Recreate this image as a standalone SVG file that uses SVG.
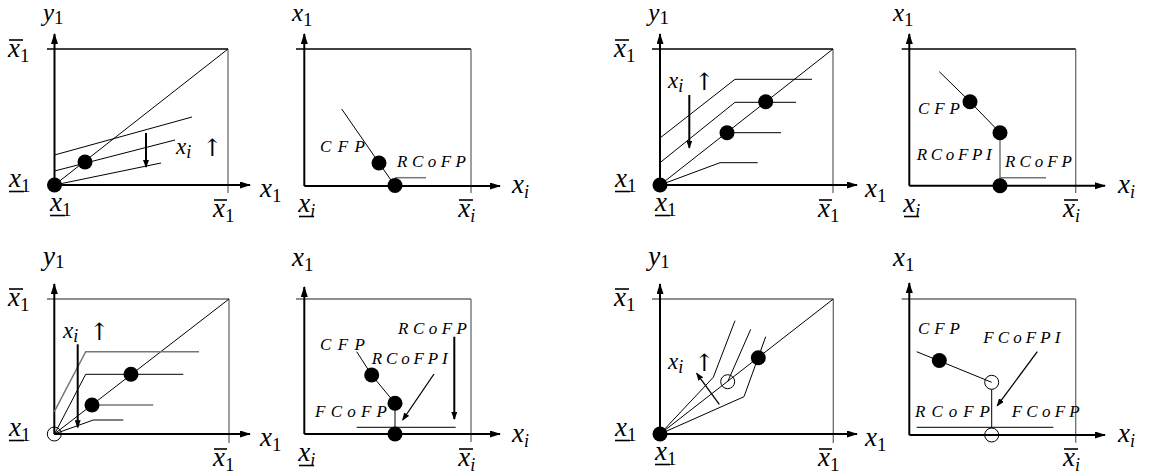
<svg xmlns="http://www.w3.org/2000/svg" width="1153" height="474" viewBox="0 0 1153 474">
<style>
.bg{fill:#fff}
.ax{stroke:#000;stroke-width:2;fill:none;marker-end:url(#ah)}
.bt{stroke:#000;stroke-width:1.3;fill:none}
.bg2{stroke:#6a6a6a;stroke-width:1.3;fill:none}
.ln{stroke:#000;stroke-width:1;fill:none}
.lg{stroke:#777;stroke-width:1.5;fill:none}
.ar{stroke:#000;stroke-width:2;fill:none;marker-end:url(#sh)}
.ar1{stroke:#000;stroke-width:1.3;fill:none;marker-end:url(#sh)}
.dot{fill:#000}
.oc{fill:none;stroke:#000;stroke-width:1}
.bar{stroke:#000;stroke-width:1.6}
.m{font-family:"Liberation Serif","Times New Roman",serif;font-style:italic;font-size:27px;fill:#000}
.mt{font-family:"Liberation Serif","Times New Roman",serif;font-style:italic;font-size:25px;fill:#000}
.m2{font-family:"Liberation Serif","Times New Roman",serif;font-style:italic;font-size:23px;fill:#000}
.s{font-style:normal;font-size:19px}
.si{font-style:italic;font-size:18px}
.up{font-family:"DejaVu Serif",serif;font-style:normal;font-size:24px;font-weight:normal}
.sl{font-family:"Liberation Serif","Times New Roman",serif;font-style:italic;font-size:17px;fill:#000}
</style>
<defs>
<marker id="ah" markerUnits="userSpaceOnUse" markerWidth="12" markerHeight="8" refX="10" refY="3.5" orient="auto"><path d="M0,0 L11,3.5 L0,7 z" fill="#000"/></marker>
<marker id="sh" markerUnits="userSpaceOnUse" markerWidth="9" markerHeight="7" refX="7" refY="3" orient="auto"><path d="M0,0 L8,3 L0,6 z" fill="#000"/></marker>
</defs>
<rect class="bg" x="0" y="0" width="1153" height="474"/>

<g id="panel1">
<line class="bt" x1="47" y1="49" x2="228" y2="49"/>
<line class="bg2" x1="228" y1="49" x2="228" y2="193"/>
<line class="ax" x1="54.5" y1="185" x2="54.5" y2="34"/>
<line class="ax" x1="54.5" y1="185" x2="250" y2="185"/>
<g id="p1-curves">
<line class="ln" x1="54.5" y1="185" x2="228" y2="49"/>
<line class="ln" x1="54.5" y1="155" x2="192" y2="117"/>
<line class="ln" x1="54.5" y1="171" x2="175" y2="140"/>
<line class="ln" x1="54.5" y1="185" x2="161" y2="163"/>
<line class="ar" x1="146" y1="133" x2="146" y2="167"/>
</g>
<circle class="dot" cx="54.5" cy="185" r="7.5"/>
<circle class="dot" cx="85" cy="162" r="7.5"/>
<text class="m2" x="176" y="154">x<tspan class="si" dy="4">i</tspan><tspan class="up" dx="11" dy="-2">↑</tspan></text>
<text class="mt" x="43" y="21">y<tspan class="s" dy="3">1</tspan></text>
<text class="m" x="8" y="57">x<tspan class="s" dy="5">1</tspan></text><line class="bar" x1="9" y1="40" x2="23" y2="40"/>
<text class="m" x="9" y="187">x<tspan class="s" dy="5">1</tspan></text><line class="bar" x1="9" y1="191.5" x2="24" y2="191.5"/>
<text class="m" x="50" y="211">x<tspan class="s" dy="5">1</tspan></text><line class="bar" x1="50" y1="215.5" x2="65" y2="215.5"/>
<text class="m" x="213" y="216.5">x<tspan class="s" dy="5">1</tspan></text><line class="bar" x1="214" y1="200" x2="227" y2="200"/>
<text class="m" x="260" y="197">x<tspan class="s" dy="5">1</tspan></text>
</g>

<g id="panel2">
<line class="bt" x1="296" y1="49" x2="471" y2="49"/>
<line class="bg2" x1="471" y1="49" x2="471" y2="193"/>
<line class="ax" x1="304.3" y1="186" x2="304.3" y2="34"/>
<line class="ax" x1="304.3" y1="186" x2="500" y2="186"/>
<g id="p2-curves">
<line class="ln" x1="341.7" y1="109" x2="395" y2="186"/>
<line class="lg" x1="395" y1="177.7" x2="426" y2="177.7"/>
</g>
<circle class="dot" cx="379" cy="163" r="7.5"/>
<circle class="dot" cx="395" cy="185.5" r="7.5"/>
<text class="sl" x="320" y="152" textLength="45" lengthAdjust="spacing">CFP</text>
<text class="sl" x="397" y="166.7" textLength="69" lengthAdjust="spacing">RCoFP</text>
<text class="mt" x="292" y="21">x<tspan class="s" dy="5">1</tspan></text>
<text class="m" x="512" y="193">x<tspan class="si" dy="5">i</tspan></text>
<text class="m" x="298.3" y="212">x<tspan class="si" dy="5">i</tspan></text><line class="bar" x1="299" y1="216.5" x2="314" y2="216.5"/>
<text class="m" x="458.3" y="216.5">x<tspan class="si" dy="5">i</tspan></text><line class="bar" x1="459" y1="200" x2="473" y2="200"/>
</g>

<g id="panel3">
<line class="bt" x1="652" y1="49" x2="833" y2="49"/>
<line class="bg2" x1="833" y1="49" x2="833" y2="193"/>
<line class="ax" x1="660" y1="185" x2="660" y2="34"/>
<line class="ax" x1="660" y1="185" x2="857" y2="185"/>
<g id="p3-curves">
<line class="ln" x1="660" y1="185" x2="833" y2="49"/>
<polyline class="ln" points="660,138 735,79.3 812,79.3"/>
<polyline class="ln" points="660,162.7 735,102.3 796,102.3"/>
<line class="ln" x1="727.7" y1="132.7" x2="781" y2="132.7"/>
<polyline class="ln" points="660,185 720,162.7 757.7,162.7"/>
<line class="ar" x1="689.3" y1="95" x2="689.3" y2="147.7"/>
</g>
<circle class="dot" cx="660" cy="185" r="7.5"/>
<circle class="dot" cx="727" cy="132.7" r="7.5"/>
<circle class="dot" cx="765.7" cy="101.7" r="7.5"/>
<text class="m2" x="668" y="88">x<tspan class="si" dy="4">i</tspan><tspan class="up" dx="11" dy="-2">↑</tspan></text>
<text class="mt" x="648.3" y="21">y<tspan class="s" dy="3">1</tspan></text>
<text class="m" x="614" y="57">x<tspan class="s" dy="5">1</tspan></text><line class="bar" x1="615" y1="40" x2="629" y2="40"/>
<text class="m" x="615" y="187">x<tspan class="s" dy="5">1</tspan></text><line class="bar" x1="615" y1="191.5" x2="630" y2="191.5"/>
<text class="m" x="655" y="211">x<tspan class="s" dy="5">1</tspan></text><line class="bar" x1="655" y1="215.5" x2="670" y2="215.5"/>
<text class="m" x="818" y="216.5">x<tspan class="s" dy="5">1</tspan></text><line class="bar" x1="819" y1="200" x2="832" y2="200"/>
<text class="m" x="865" y="197">x<tspan class="s" dy="5">1</tspan></text>
</g>

<g id="panel4">
<line class="bt" x1="901.7" y1="49" x2="1075.7" y2="49"/>
<line class="bg2" x1="1075.7" y1="49" x2="1075.7" y2="193"/>
<line class="ax" x1="909.3" y1="185.7" x2="909.3" y2="34"/>
<line class="ax" x1="909.3" y1="185.7" x2="1105" y2="185.7"/>
<g id="p4-curves">
<polyline class="ln" points="939.3,71.7 970,101.7 1000,132.7"/>
<line class="lg" x1="1000" y1="132.7" x2="1000" y2="185.7"/>
<line class="lg" x1="1000" y1="177.7" x2="1046" y2="177.7"/>
</g>
<circle class="dot" cx="970" cy="101.7" r="7.5"/>
<circle class="dot" cx="1000" cy="132.7" r="7.5"/>
<circle class="dot" cx="1000" cy="185.7" r="7.5"/>
<text class="sl" x="918" y="114" textLength="42" lengthAdjust="spacing">CFP</text>
<text class="sl" x="916.7" y="160" textLength="75" lengthAdjust="spacing">RCoFPI</text>
<text class="sl" x="1005" y="167" textLength="67" lengthAdjust="spacing">RCoFP</text>
<text class="mt" x="893" y="21">x<tspan class="s" dy="5">1</tspan></text>
<text class="m" x="1118" y="193">x<tspan class="si" dy="5">i</tspan></text>
<text class="m" x="903.3" y="212">x<tspan class="si" dy="5">i</tspan></text><line class="bar" x1="904" y1="216.5" x2="919" y2="216.5"/>
<text class="m" x="1063" y="216.5">x<tspan class="si" dy="5">i</tspan></text><line class="bar" x1="1064" y1="200" x2="1078" y2="200"/>
</g>

<g id="panel5">
<line class="bg2" x1="47" y1="299" x2="229" y2="299"/>
<line class="bg2" x1="229" y1="299" x2="229" y2="443"/>
<line class="ax" x1="54.3" y1="434" x2="54.3" y2="284"/>
<line class="ax" x1="54.3" y1="434" x2="250" y2="434"/>
<g id="p5-curves">
<line class="ln" x1="54.3" y1="434" x2="229" y2="299"/>
<polyline class="lg" points="54.3,411.7 85.7,351.7 199,351.7"/>
<polyline class="ln" points="55,433 85.7,374.3 183.3,374.3"/>
<line class="lg" x1="92" y1="405" x2="153.3" y2="405"/>
<polyline class="ln" points="54.3,434 93.3,420 123.3,420"/>
<line class="ar" x1="77.7" y1="344.3" x2="77.7" y2="427.3"/>
</g>
<circle class="oc" cx="54.3" cy="434" r="7"/>
<circle class="dot" cx="131" cy="374.3" r="7.5"/>
<circle class="dot" cx="92" cy="405" r="7.5"/>
<text class="m2" x="63" y="338">x<tspan class="si" dy="4">i</tspan><tspan class="up" dx="11" dy="-2">↑</tspan></text>
<text class="m" x="43" y="265">y<tspan class="s" dy="3">1</tspan></text>
<text class="m" x="8" y="306">x<tspan class="s" dy="5">1</tspan></text><line class="bar" x1="9" y1="289" x2="23" y2="289"/>
<text class="m" x="9" y="436">x<tspan class="s" dy="5">1</tspan></text><line class="bar" x1="9" y1="440.5" x2="24" y2="440.5"/>
<text class="m" x="213" y="465.5">x<tspan class="s" dy="5">1</tspan></text><line class="bar" x1="214" y1="449" x2="227" y2="449"/>
<text class="m" x="260" y="446">x<tspan class="s" dy="5">1</tspan></text>
</g>

<g id="panel6">
<line class="bg2" x1="296" y1="299" x2="471" y2="299"/>
<line class="bg2" x1="471" y1="299" x2="471" y2="442"/>
<line class="ax" x1="304.3" y1="434" x2="304.3" y2="287"/>
<line class="ax" x1="304.3" y1="434" x2="500" y2="434"/>
<g id="p6-curves">
<polyline class="ln" points="356.7,351.7 371.7,375 395,403.3 395,434"/>
<line class="ln" x1="356.7" y1="427.3" x2="455.7" y2="427.3"/>
<line class="ar" x1="454.3" y1="336.7" x2="454.3" y2="419"/>
<line class="ar1" x1="434" y1="374" x2="402.7" y2="420"/>
</g>
<circle class="dot" cx="371.7" cy="375" r="7.5"/>
<circle class="dot" cx="395" cy="403.3" r="7.5"/>
<circle class="dot" cx="395" cy="434" r="7.5"/>
<text class="sl" x="320" y="350" textLength="45" lengthAdjust="spacing">CFP</text>
<text class="sl" x="371.7" y="364" textLength="76" lengthAdjust="spacing">RCoFPI</text>
<text class="sl" x="398" y="334" textLength="69" lengthAdjust="spacing">RCoFP</text>
<text class="sl" x="315" y="417" textLength="72" lengthAdjust="spacing">FCoFP</text>
<text class="m" x="292" y="265.5">x<tspan class="s" dy="5">1</tspan></text>
<text class="m" x="512" y="442">x<tspan class="si" dy="5">i</tspan></text>
<text class="m" x="298.3" y="461">x<tspan class="si" dy="5">i</tspan></text><line class="bar" x1="299" y1="465.5" x2="314" y2="465.5"/>
<text class="m" x="458.3" y="465.5">x<tspan class="si" dy="5">i</tspan></text><line class="bar" x1="459" y1="449" x2="473" y2="449"/>
</g>

<g id="panel7">
<line class="bg2" x1="652" y1="299" x2="833.3" y2="299"/>
<line class="bg2" x1="833.3" y1="299" x2="833.3" y2="443"/>
<line class="ax" x1="660" y1="434" x2="660" y2="284"/>
<line class="ax" x1="660" y1="434" x2="857" y2="434"/>
<g id="p7-curves">
<line class="ln" x1="660" y1="434" x2="833.3" y2="299"/>
<polyline class="ln" points="660,434 713.3,377.3 735,320.7"/>
<polyline class="ln" points="727.7,381.7 750.7,329.3"/>
<polyline class="ln" points="660,434 744,396.7 765.7,336.7"/>
<line class="ar1" x1="719.3" y1="404.3" x2="696.7" y2="373.3"/>
</g>
<circle class="dot" cx="660" cy="434" r="7.5"/>
<circle class="oc" cx="727.7" cy="381.7" r="7"/>
<circle class="dot" cx="758.3" cy="357.8" r="7.5"/>
<text class="m2" x="668" y="369">x<tspan class="si" dy="4">i</tspan><tspan class="up" dx="11" dy="-2">↑</tspan></text>
<text class="m" x="648.3" y="265">y<tspan class="s" dy="3">1</tspan></text>
<text class="m" x="614" y="306">x<tspan class="s" dy="5">1</tspan></text><line class="bar" x1="615" y1="289" x2="629" y2="289"/>
<text class="m" x="615" y="436">x<tspan class="s" dy="5">1</tspan></text><line class="bar" x1="615" y1="440.5" x2="630" y2="440.5"/>
<text class="m" x="655" y="460">x<tspan class="s" dy="5">1</tspan></text><line class="bar" x1="655" y1="464.5" x2="670" y2="464.5"/>
<text class="m" x="818" y="465.5">x<tspan class="s" dy="5">1</tspan></text><line class="bar" x1="819" y1="449" x2="832" y2="449"/>
<text class="m" x="865" y="446">x<tspan class="s" dy="5">1</tspan></text>
</g>

<g id="panel8">
<line class="bg2" x1="901.7" y1="299" x2="1075.7" y2="299"/>
<line class="bg2" x1="1075.7" y1="299" x2="1075.7" y2="442.7"/>
<line class="ax" x1="909.3" y1="435" x2="909.3" y2="283"/>
<line class="ax" x1="909.3" y1="435" x2="1105" y2="435"/>
<g id="p8-curves">
<line class="ln" x1="916.7" y1="351.7" x2="991.7" y2="382.3"/>
<line class="ln" x1="991.7" y1="389.3" x2="991.7" y2="428"/>
<line class="ln" x1="916.7" y1="427.3" x2="1053.3" y2="427.3"/>
<line class="ar1" x1="1037.3" y1="351.7" x2="997.3" y2="405.7"/>
</g>
<circle class="dot" cx="939.3" cy="360.5" r="7.5"/>
<circle class="oc" cx="991.7" cy="382.3" r="7"/>
<circle class="oc" cx="991.7" cy="435" r="7"/>
<text class="sl" x="918" y="334" textLength="42" lengthAdjust="spacing">CFP</text>
<text class="sl" x="983.3" y="343" textLength="77" lengthAdjust="spacing">FCoFPI</text>
<text class="sl" x="915" y="417" textLength="75" lengthAdjust="spacing">RCoFP</text>
<text class="sl" x="1011.7" y="417" textLength="68" lengthAdjust="spacing">FCoFP</text>
<text class="m" x="893" y="265.5">x<tspan class="s" dy="5">1</tspan></text>
<text class="m" x="1118" y="442">x<tspan class="si" dy="5">i</tspan></text>
<text class="m" x="1063" y="465.5">x<tspan class="si" dy="5">i</tspan></text><line class="bar" x1="1064" y1="449" x2="1078" y2="449"/>
</g>
</svg>
